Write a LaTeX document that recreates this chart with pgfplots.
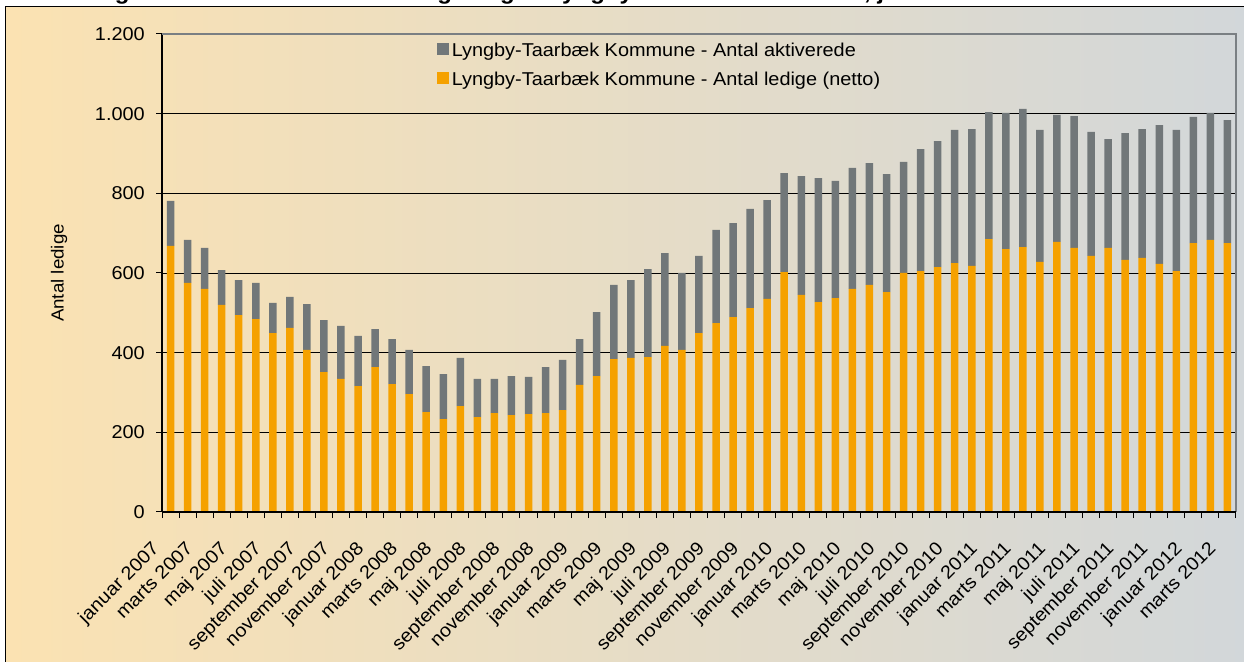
\documentclass[border=0pt]{standalone}
\usepackage{fontspec}
\setmainfont{Liberation Sans}[FakeStretch=1.07]
\usepackage{pgfplots}
\usepackage{pgfplotstable}
\pgfplotsset{compat=1.18}
\definecolor{barorange}{HTML}{F5A100}
\definecolor{bargrey}{HTML}{717779}
\definecolor{bgleft}{HTML}{FBE2B2}
\definecolor{bgmid}{HTML}{EBDCC6}
\definecolor{bgright}{HTML}{D2D7DA}
\definecolor{framegrey}{HTML}{7A7F83}
\pgfplotstableread{
x ledige aktiv
1 668 113
2 575 108
3 560 103
4 520 87
5 494 88
6 484 91
7 449 76
8 462 78
9 407 115
10 351 131
11 334 133
12 316 126
13 364 95
14 321 113
15 296 111
16 251 115
17 233 113
18 266 121
19 238 96
20 248 86
21 243 98
22 246 93
23 248 116
24 256 126
25 319 115
26 341 161
27 384 186
28 387 195
29 389 221
30 417 233
31 407 193
32 449 194
33 474 234
34 489 236
35 512 249
36 535 248
37 602 249
38 545 298
39 527 311
40 537 294
41 560 304
42 570 306
43 552 296
44 600 279
45 605 306
46 615 316
47 625 334
48 618 343
49 685 319
50 660 342
51 665 347
52 628 331
53 678 319
54 663 331
55 643 311
56 663 273
57 633 318
58 638 323
59 623 348
60 605 354
61 675 317
62 683 319
63 675 309
}\datatable
\begin{document}
\begin{tikzpicture}[x=1pt,y=1pt]
\shade[left color=bgleft, middle color=bgmid, right color=bgright] (5.5,-20) rectangle (1250,654.5);
\draw[black, line width=1.3pt] (5.5,-20) rectangle (1250,654.5);
\node[anchor=base west, inner sep=0pt, font=\bfseries\fontsize{22.5}{26}\selectfont] at (21,661.5) {Udviklingen i antallet af aktiverede og ledige i Lyngby-Taarbæk Kommune, januar 2007 - marts 2012};
\begin{axis}[
  at={(162pt,149pt)}, anchor=south west,
  scale only axis, width=1074pt, height=478pt,
  ybar stacked, bar width=7.5pt,
  xmin=0.5, xmax=63.5, ymin=0, ymax=1200,
  ytick={0,200,...,1200},
  xtick={1,3,...,63},
  xticklabels={januar 2007, marts 2007, maj 2007, juli 2007, september 2007, november 2007,
    januar 2008, marts 2008, maj 2008, juli 2008, september 2008, november 2008,
    januar 2009, marts 2009, maj 2009, juli 2009, september 2009, november 2009,
    januar 2010, marts 2010, maj 2010, juli 2010, september 2010, november 2010,
    januar 2011, marts 2011, maj 2011, juli 2011, september 2011, november 2011,
    januar 2012, marts 2012},
  minor xtick={0.5,1.5,...,63.5},
  tick align=outside,
  major tick length=6pt, minor tick length=6pt,
  tick style={black, line width=1pt},
  major x tick style={draw=none},
  axis lines*=left,
  axis line style={black, line width=1.5pt},
  ymajorgrids,
  major grid style={black, line width=0.9pt},
  /pgf/number format/assume math mode=true,
  /pgf/number format/1000 sep={.},
  yticklabel style={font=\fontsize{18.6}{22}\selectfont, inner sep=0pt, xshift=-11pt},
  xticklabel style={font=\fontsize{18.6}{22}\selectfont, inner sep=0pt, xshift=-20pt, yshift=-22pt, rotate=45, anchor=north east},
  ylabel={Antal ledige},
  ylabel style={at={(axis description cs:-0.0959,0.5)}, anchor=center, font=\fontsize{17.5}{20}\selectfont},
  legend style={at={(axis description cs:0.2561,0.982)}, anchor=north west, draw=none, fill=none,
    inner sep=0pt, row sep=14pt, font=\fontsize{18.6}{22}\selectfont,
    nodes={inner xsep=2.5pt, inner ysep=0pt}},
  legend cell align=left,
  reverse legend,
  legend image code/.code={\fill[#1] (0pt,-4.6pt) rectangle (12pt,7.4pt);},
  after end axis/.code={
    \draw[framegrey, line width=1.8pt] (rel axis cs:0,1) -- (rel axis cs:1,1) -- (rel axis cs:1,0);
    \draw[black, line width=1.5pt] (rel axis cs:0,0) -- (rel axis cs:1,0);
  },
]
\addplot[fill=barorange, draw=none] table[x=x, y=ledige] {\datatable};
\addlegendentry{Lyngby-Taarbæk Kommune - Antal ledige (netto)}
\addplot[fill=bargrey, draw=none] table[x=x, y=aktiv] {\datatable};
\addlegendentry{Lyngby-Taarbæk Kommune - Antal aktiverede}
\end{axis}
\pgfresetboundingbox
\useasboundingbox (0,0) rectangle (1244,661);
\end{tikzpicture}
\end{document}
